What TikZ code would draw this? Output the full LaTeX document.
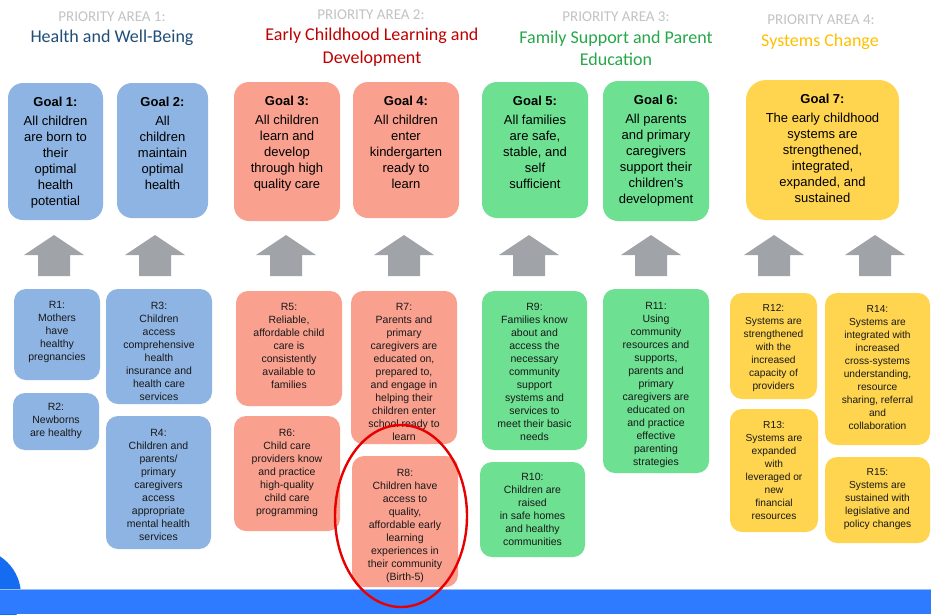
\documentclass[tikz,border=0pt]{standalone}
\usepackage{fontspec}
\setmainfont{Liberation Sans}
\newfontfamily\hdrfont{Carlito}
\usetikzlibrary{shapes.geometric}
\definecolor{blueb}{RGB}{142,180,227}
\definecolor{salb}{RGB}{249,160,143}
\definecolor{greenb}{RGB}{109,224,146}
\definecolor{yelb}{RGB}{255,213,79}
\definecolor{arrgray}{RGB}{160,163,168}
\definecolor{prgray}{RGB}{195,195,195}
\definecolor{h1c}{RGB}{31,78,121}
\definecolor{h2c}{RGB}{192,0,0}
\definecolor{h3c}{RGB}{38,168,74}
\definecolor{h4c}{RGB}{255,192,0}
\definecolor{txtc}{RGB}{25,25,25}
\definecolor{barblue}{RGB}{46,123,255}
\definecolor{barlight}{RGB}{150,190,250}
\definecolor{circblue}{RGB}{22,108,240}
\definecolor{ringred}{RGB}{232,0,0}
\newcommand\mybox[7][12pt]{\node[box, rounded corners=#1, fill=#3, minimum width={(#6)-(#4)}, minimum height={(#7)-(#5)}] (#2) at ({((#4)+(#6))/2},{((#5)+(#7))/2}) {};}
\begin{document}
\begin{tikzpicture}[x=1pt,y=-1pt,
  box/.style={inner sep=0pt, draw=none},
  gtxt/.style={font=\fontsize{13}{16}\selectfont, align=center, inner sep=0pt, anchor=north, text=black},
  rtxt/.style={font=\fontsize{10.5}{13}\selectfont, align=center, inner sep=0pt, anchor=north, text=txtc},
  ytxt/.style={font=\fontsize{10.2}{13}\selectfont, align=center, inner sep=0pt, anchor=north, text=txtc},
  prio/.style={font=\hdrfont\fontsize{15}{18}\selectfont, text=prgray, anchor=base, inner sep=0pt},
  area/.style={font=\hdrfont\fontsize{18}{22}\selectfont, anchor=base, inner sep=0pt}]
\useasboundingbox (0,0) rectangle (931,614);
\fill[white] (0,0) rectangle (931,614);

% headers
\node[prio] (p1) at (112,21) {PRIORITY AREA 1:};
\node[area, text=h1c] (a1) at (112,42) {Health and Well-Being};
\node[prio] (p2) at (371,19) {PRIORITY AREA 2:};
\node[area, text=h2c] (a2) at (372,40) {Early Childhood Learning and};
\node[area, text=h2c] (a2b) at (372,63) {Development};
\node[prio] (p3) at (616,21) {PRIORITY AREA 3:};
\node[area, text=h3c] (a3) at (616,43) {Family Support and Parent};
\node[area, text=h3c] (a3b) at (616,65) {Education};
\node[prio] (p4) at (821,24) {PRIORITY AREA 4:};
\node[area, text=h4c] (a4) at (820,46) {Systems Change};

% goal boxes
\mybox[15pt]{g1}{blueb}{8}{83}{103}{220}
\mybox[15pt]{g2}{blueb}{117}{83}{208}{218}
\mybox[15pt]{g3}{salb}{234}{82}{340}{221}
\mybox[15pt]{g4}{salb}{353}{82}{459}{218}
\mybox[15pt]{g5}{greenb}{482}{82}{588}{218}
\mybox[15pt]{g6}{greenb}{603}{81}{709}{221}
\mybox[20pt]{g7}{yelb}{746}{80}{899}{220}

\node[gtxt] (g1t) at ([yshift=-14pt]g1.north) {\textbf{Goal 1:}\\[3pt]All children\\are born to\\their\\optimal\\health\\potential};
\node[gtxt] (g2t) at ([yshift=-14pt]g2.north) {\textbf{Goal 2:}\\[3pt]All\\children\\maintain\\optimal\\health};
\node[gtxt] (g3t) at ([yshift=-14pt]g3.north) {\textbf{Goal 3:}\\[3pt]All children\\learn and\\develop\\through high\\quality care};
\node[gtxt] (g4t) at ([yshift=-14pt]g4.north) {\textbf{Goal 4:}\\[3pt]All children\\enter\\kindergarten\\ready to\\learn};
\node[gtxt] (g5t) at ([yshift=-14pt]g5.north) {\textbf{Goal 5:}\\[3pt]All families\\are safe,\\stable, and\\self\\sufficient};
\node[gtxt] (g6t) at ([yshift=-14pt]g6.north) {\textbf{Goal 6:}\\[3pt]All parents\\and primary\\caregivers\\support their\\children's\\development};
\node[gtxt] (g7t) at ([yshift=-14pt]g7.north) {\textbf{Goal 7:}\\[3pt]The early childhood\\systems are\\strengthened,\\integrated,\\expanded, and\\sustained};

% block arrows
\foreach \ax in {54,155,286,404,529,651,774,875}
  \fill[arrgray] (\ax-16,276) -- (\ax-16,255) -- (\ax-30,255) -- (\ax,235) -- (\ax+30,255) -- (\ax+16,255) -- (\ax+16,276) -- cycle;

% result boxes
\mybox{r1}{blueb}{14}{289}{100}{380}
\mybox{r2}{blueb}{13}{393}{99}{450}
\mybox{r3}{blueb}{106}{289}{212}{404}
\mybox{r4}{blueb}{106}{416}{211}{549}
\mybox{r5}{salb}{236}{291}{342}{406}
\mybox{r6}{salb}{234}{416}{340}{531}
\mybox{r7}{salb}{351}{291}{457}{444}
\mybox{r8}{salb}{352}{456}{458}{587}
\mybox{r9}{greenb}{482}{291}{587}{450}
\mybox{r10}{greenb}{480}{462}{585}{557}
\mybox{r11}{greenb}{603}{289}{709}{473}
\mybox{r12}{yelb}{730}{293}{817}{399}
\mybox{r13}{yelb}{730}{409}{818}{532}
\mybox{r14}{yelb}{825}{293}{930}{445}
\mybox{r15}{yelb}{825}{457}{930}{543}

\node[rtxt] (r1t) at ([yshift=-12pt]r1.north) {R1:\\Mothers\\have\\healthy\\pregnancies};
\node[rtxt] (r2t) at ([yshift=-10pt]r2.north) {R2:\\Newborns\\are healthy};
\node[rtxt] (r3t) at ([yshift=-13pt]r3.north) {R3:\\Children\\access\\comprehensive\\health\\insurance and\\health care\\services};
\node[rtxt] (r4t) at ([yshift=-13pt]r4.north) {R4:\\Children and\\parents/\\primary\\caregivers\\access\\appropriate\\mental health\\services};
\node[rtxt] (r5t) at ([yshift=-12pt]r5.north) {R5:\\Reliable,\\affordable child\\care is\\consistently\\available to\\families};
\node[rtxt] (r6t) at ([yshift=-13pt]r6.north) {R6:\\Child care\\providers know\\and practice\\high-quality\\child care\\programming};
\node[rtxt] (r7t) at ([yshift=-12pt]r7.north) {R7:\\Parents and\\primary\\caregivers are\\educated on,\\prepared to,\\and engage in\\helping their\\children enter\\school ready to\\learn};
\node[rtxt] (r8t) at ([yshift=-13pt]r8.north) {R8:\\Children have\\access to\\quality,\\affordable early\\learning\\experiences in\\their community\\(Birth-5)};
\node[rtxt] (r9t) at ([yshift=-12pt]r9.north) {R9:\\Families know\\about and\\access the\\necessary\\community\\support\\systems and\\services to\\meet their basic\\needs};
\node[rtxt] (r10t) at ([yshift=-11pt]r10.north) {R10:\\Children are\\raised\\in safe homes\\and healthy\\communities};
\node[rtxt] (r11t) at ([yshift=-13pt]r11.north) {R11:\\Using\\community\\resources and\\supports,\\parents and\\primary\\caregivers are\\educated on\\and practice\\effective\\parenting\\strategies};
\node[ytxt] (r12t) at ([yshift=-11pt]r12.north) {R12:\\Systems are\\strengthened\\with the\\increased\\capacity of\\providers};
\node[ytxt] (r13t) at ([yshift=-12pt]r13.north) {R13:\\Systems are\\expanded\\with\\leveraged or\\new\\financial\\resources};
\node[ytxt] (r14t) at ([yshift=-12pt]r14.north) {R14:\\Systems are\\integrated with\\increased\\cross-systems\\understanding,\\resource\\sharing, referral\\and\\collaboration};
\node[ytxt] (r15t) at ([yshift=-11pt]r15.north) {R15:\\Systems are\\sustained with\\legislative and\\policy changes};

% bottom decoration
\fill[circblue] (-25,595) circle (46);
\fill[barblue] (0,590) rectangle (931,614);
\draw[barlight, line width=1.2pt] (0,589.6) -- (931,589.6);

% highlight ring
\node[draw=ringred, line width=2.4pt, ellipse, inner sep=0pt, minimum width=132, minimum height=182] (ring) at (401,516) {};
\end{tikzpicture}
\end{document}
